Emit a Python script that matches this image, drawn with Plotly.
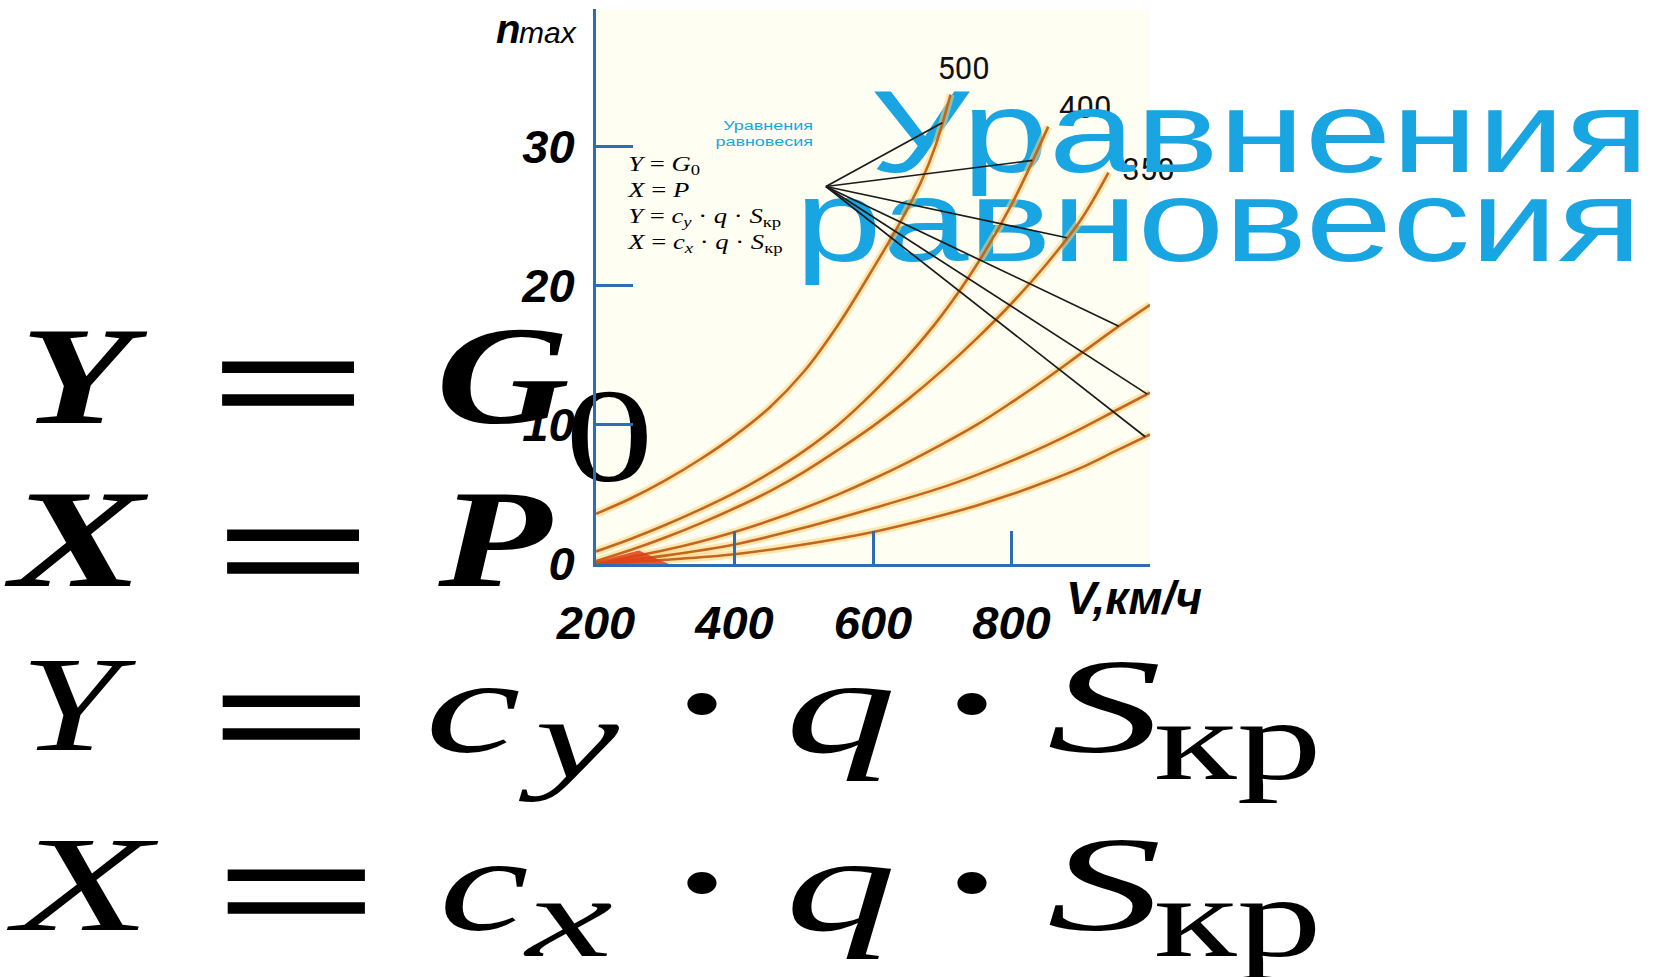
import json
import numpy as np
import plotly.graph_objects as go

W, H = 1657, 977

# ---------------- data: n_max versus V for each curve ----------------
V_500 = [200, 250, 300, 350, 400, 450, 500, 550, 600, 640, 670, 690, 712]
N_500 = [3.6, 4.7, 6.0, 7.5, 9.2, 11.2, 13.8, 17.2, 21.2, 24.6, 27.5, 30.0, 33.7]

V_400 = [200, 250, 300, 350, 400, 450, 500, 550, 600, 650, 700, 750, 800, 853]
N_400 = [0.9, 1.8, 2.8, 3.9, 5.1, 6.5, 8.1, 10.0, 12.3, 14.9, 17.9, 21.5, 25.8, 31.4]

V_350 = [200, 250, 300, 350, 400, 450, 500, 550, 600, 650, 700, 750, 800, 850, 900, 940]
N_350 = [0.2, 1.0, 1.9, 2.9, 4.0, 5.2, 6.6, 8.2, 9.9, 11.8, 13.9, 16.2, 18.7, 21.5, 24.7, 28.1]

V_200 = [200, 250, 300, 350, 400, 450, 500, 550, 600, 650, 700, 750, 800, 850, 900, 950, 1000]
N_200 = [0.0, 0.5, 1.0, 1.6, 2.3, 3.1, 4.0, 5.0, 6.1, 7.3, 8.6, 10.0, 11.6, 13.3, 15.1, 16.9, 18.6]

V_150 = [200, 300, 400, 500, 600, 700, 750, 800, 850, 900, 950, 1000]
N_150 = [0.0, 0.6, 1.4, 2.6, 4.0, 5.5, 6.4, 7.4, 8.5, 9.7, 11.0, 12.3]

V_100 = [200, 300, 400, 500, 600, 700, 750, 800, 850, 900, 950, 1000]
N_100 = [0.0, 0.3, 0.7, 1.4, 2.3, 3.5, 4.2, 5.0, 5.9, 6.9, 8.1, 9.3]

CURVE_LABELS = ["500", "400", "350", "200", "150", "100"]
LEADER_V = [700, 830, 880, 955, 996, 993]       # where each leader line meets its curve

X_TICKS = [200, 400, 600, 800, 1000]
X_TICK_TEXT = ["200", "400", "600", "800", " "]
Y_TICKS = [0, 10, 20, 30]
Y_TICK_TEXT = ["0", "10", "20", "30"]

curves = [(V_500, N_500), (V_400, N_400), (V_350, N_350),
          (V_200, N_200), (V_150, N_150), (V_100, N_100)]

# ---------------- chart frame (page pixels) ----------------
X0_PX, X1_PX = 596, 1150          # V = 200 ... 1000
Y0_PX, Y1_PX = 564, 9             # n = 0 at bottom, top of axis
V_MIN, V_MAX = 200, 1000
PX_PER_N = 13.93
N_TOP = (Y0_PX - Y1_PX) / PX_PER_N
PX_PER_V = (X1_PX - X0_PX) / (V_MAX - V_MIN)

AXIS_BLUE = "#2E6DB4"
CURVE_COL = "#C4661F"
GLOW_COL = "rgba(250,214,120,0.55)"
SKY = "#19A5E1"
WIDE = 4 / 3                      # horizontal stretch of the slide lettering

HUB = (532, 27.1)                 # common origin of the leader lines
LABEL_OFFSET_PX = [(13, -27), (37, -20), (40, -4), (31, 0), (33, -8), (33, -5)]

fig = go.Figure()

PAGE = dict(visible=False, fixedrange=True, automargin=False)
widths = {"xy": [], "x3y3": []}   # per-text horizontal stretch, in drawing order


def glyph(text, left, baseline, size, axes=("x", "y"), family="Liberation Serif",
          weight="normal", style="normal", color="black", anchor="left", sx=WIDE):
    """Single line of text whose baseline sits at `baseline` (page px)."""
    fig.add_trace(go.Scatter(
        x=[left], y=[baseline - 0.25 * size], mode="text", text=[text],
        textposition="middle right" if anchor == "left" else "middle left",
        textfont=dict(family=family, size=size, color=color, weight=weight, style=style),
        xaxis=axes[0], yaxis=axes[1], cliponaxis=False,
        hoverinfo="skip", showlegend=False))
    widths[axes[0] + axes[1]].append(sx)


# ---- layer 1: large equations (page pixels, under the chart) ----
# text, left, baseline, size, weight, style, stretch
BIG = [
    ("Y", 20, 423, 139, "bold", "italic", 1.333),
    ("=", 208, 438, 164, "bold", "normal", 1.73),
    ("G", 436, 423, 139, "bold", "italic", 1.333),
    ("0", 565, 481, 133, "normal", "normal", 1.333),
    ("X", 8, 586, 139, "bold", "italic", 1.45),
    ("=", 213, 606, 164, "bold", "normal", 1.73),
    ("P", 438, 586, 139, "bold", "italic", 1.333),
    ("Y", 20, 750, 135, "normal", "italic", 1.333),
    ("=", 208, 772, 164, "bold", "normal", 1.8),
    ("c", 425, 752, 135, "normal", "italic", 1.6),
    ("y", 528, 778, 115, "normal", "italic", 1.65),
    ("·", 672, 749, 135, "bold", "normal", 1.333),
    ("q", 785, 752, 135, "normal", "italic", 1.65),
    ("·", 942, 749, 135, "bold", "normal", 1.333),
    ("S", 1047, 752, 135, "normal", "italic", 1.7),
    ("кр", 1154, 779, 115, "normal", "normal", 1.48),
    ("X", 11, 930, 135, "normal", "italic", 1.66),
    ("=", 213, 946, 164, "bold", "normal", 1.8),
    ("c", 439, 930, 135, "normal", "italic", 1.5),
    ("x", 525, 956, 115, "normal", "italic", 1.7),
    ("·", 672, 928, 135, "bold", "normal", 1.333),
    ("q", 785, 930, 135, "normal", "italic", 1.65),
    ("·", 942, 928, 135, "bold", "normal", 1.333),
    ("S", 1047, 930, 135, "normal", "italic", 1.7),
    ("кр", 1154, 956, 115, "normal", "normal", 1.48),
]
for t, lx, bl, sz, wt, st, sx in BIG:
    glyph(t, lx, bl, sz, weight=wt, style=st, sx=sx)

# small copy of the equations beside the y axis
SMALL_EQ = ("<i>Y</i> = <i>G</i><sub>0</sub><br>"
            "<i>X</i> = <i>P</i><br>"
            "<i>Y</i> = <i>c<sub>y</sub></i> · <i>q</i> · <i>S</i><sub>кр</sub><br>"
            "<i>X</i> = <i>c<sub>x</sub></i> · <i>q</i> · <i>S</i><sub>кр</sub>")
fig.add_trace(go.Scatter(
    x=[628], y=[171 + 1.7 * 20], mode="text", text=[SMALL_EQ],
    textposition="middle right",
    textfont=dict(family="Liberation Serif", size=20, color="black"),
    xaxis="x", yaxis="y", cliponaxis=False, hoverinfo="skip", showlegend=False))
widths["xy"].append(WIDE)

# ---- layer 2: curve labels (chart coordinates) ----
lab_x, lab_y = [], []
for (vs, ns), (dx, dy) in zip(curves, LABEL_OFFSET_PX):
    lab_x.append(vs[-1] + dx / PX_PER_V)
    lab_y.append(ns[-1] - dy / PX_PER_N)
fig.add_trace(go.Scatter(
    x=lab_x, y=[v - 0.11 * 31 / PX_PER_N for v in lab_y], mode="text", text=CURVE_LABELS,
    textposition="middle center",
    textfont=dict(family="Roboto", size=31, color="#111111"),
    xaxis="x2", yaxis="y2", cliponaxis=False, hoverinfo="skip", showlegend=False))

# ---- layer 3: blue heading (page pixels) ----
glyph("Уравнения", 870, 172, 116, axes=("x3", "y3"), family="Liberation Sans", color=SKY, sx=1.345)
glyph("равновесия", 795, 261, 116, axes=("x3", "y3"), family="Liberation Sans", color=SKY, sx=1.345)
glyph("Уравнения", 813, 130, 13.5, axes=("x3", "y3"), family="Liberation Sans",
      color=SKY, anchor="right")
glyph("равновесия", 813, 146, 13.5, axes=("x3", "y3"), family="Liberation Sans",
      color=SKY, anchor="right")

# ---- layer 4: the chart itself ----
for vs, ns in curves:
    fig.add_trace(go.Scatter(x=vs, y=ns, mode="lines", line=dict(color=GLOW_COL, width=8, shape="spline"),
                             xaxis="x4", yaxis="y4", hoverinfo="skip", showlegend=False))
for (vs, ns), name in zip(curves, CURVE_LABELS):
    fig.add_trace(go.Scatter(x=vs, y=ns, mode="lines", name=name,
                             line=dict(color=CURVE_COL, width=2.6, shape="spline"),
                             xaxis="x4", yaxis="y4", showlegend=False))

# red wedge where the curves bunch together near the origin
wedge_v = np.linspace(200, 262, 9)
wedge_n = np.interp(wedge_v, V_350, N_350) * 0.8
fig.add_trace(go.Scatter(
    x=list(wedge_v) + [305, 200], y=list(wedge_n) + [0, 0], mode="lines",
    fill="toself", fillcolor="rgba(226,62,26,0.85)", line=dict(width=0),
    xaxis="x4", yaxis="y4", hoverinfo="skip", showlegend=False))

# leader lines from a common hub to each curve
lx, ly = [], []
for (vs, ns), lv in zip(curves, LEADER_V):
    lx += [HUB[0], lv, None]
    ly += [HUB[1], float(np.interp(lv, vs, ns)), None]
fig.add_trace(go.Scatter(x=lx, y=ly, mode="lines", line=dict(color="#1b1b1b", width=1.7),
                         xaxis="x4", yaxis="y4", hoverinfo="skip", showlegend=False))

dom_x = [X0_PX / W, X1_PX / W]
dom_y = [(H - Y0_PX) / H, (H - Y1_PX) / H]

tick_font = dict(family="Liberation Sans", size=47, color="black", weight="bold", style="italic")

fig.update_layout(
    width=W, height=H, margin=dict(l=0, r=0, t=0, b=0, autoexpand=False),
    paper_bgcolor="white", plot_bgcolor="rgba(0,0,0,0)", showlegend=False,
    xaxis=dict(domain=[0, 1], range=[0, W], **PAGE),
    yaxis=dict(domain=[0, 1], range=[H, 0], **PAGE),
    xaxis2=dict(domain=dom_x, range=[V_MIN, V_MAX], anchor="y2", **PAGE),
    yaxis2=dict(domain=dom_y, range=[0, N_TOP], anchor="x2", **PAGE),
    xaxis3=dict(domain=[0, 1], range=[0, W], anchor="y3", **PAGE),
    yaxis3=dict(domain=[0, 1], range=[H, 0], anchor="x3", **PAGE),
    xaxis4=dict(domain=dom_x, range=[V_MIN, V_MAX], anchor="y4", fixedrange=True, automargin=False,
                showline=True, linecolor=AXIS_BLUE, linewidth=3, showgrid=False, zeroline=False,
                ticks="inside", ticklen=33, tickwidth=3, tickcolor=AXIS_BLUE,
                tickvals=X_TICKS, ticktext=X_TICK_TEXT, tickfont=tick_font, ticklabelstandoff=16),
    yaxis4=dict(domain=dom_y, range=[0, N_TOP], anchor="x4", fixedrange=True, automargin=False,
                showline=True, linecolor=AXIS_BLUE, linewidth=3, showgrid=False, zeroline=False,
                ticks="inside", ticklen=37, tickwidth=3, tickcolor=AXIS_BLUE,
                tickvals=Y_TICKS, ticktext=Y_TICK_TEXT, tickfont=tick_font, ticklabelstandoff=9),
    shapes=[dict(type="rect", xref="paper", yref="paper", layer="below",
                 x0=dom_x[0], x1=dom_x[1], y0=dom_y[0], y1=dom_y[1],
                 fillcolor="#FFFEF2", line=dict(width=0))],
)


def title(text, left, baseline, size, weight="bold", style="italic"):
    fig.add_annotation(x=left / W, y=1 - (baseline - 0.3465 * size) / H, xref="paper", yref="paper",
                       xanchor="left", yanchor="middle", showarrow=False, text=text,
                       borderpad=0, borderwidth=0,
                       font=dict(family="Liberation Sans", size=size, color="black",
                                 weight=weight, style=style))


title("n", 496, 43, 40)
title("max", 519, 43, 30, weight="normal")
title("V,км/ч", 1066, 614, 46)

# stretch the slide lettering horizontally, keeping each left (or right) edge in place
post = """
var gd = document.getElementById('{plot_id}');
var SX = %s;
function widen(){
  Object.keys(SX).forEach(function(sp){
    gd.querySelectorAll('.subplot.' + sp + ' .textpoint text').forEach(function(t, i){
      var a = t.getAttribute('text-anchor');
      var s = SX[sp][i] || 1.3333;
      t.style.transformBox = 'fill-box';
      t.style.transformOrigin = (a === 'end' ? 'right' : (a === 'middle' ? 'center' : 'left')) + ' center';
      t.style.transform = 'scaleX(' + s + ')';
    });
  });
}
widen();
gd.on('plotly_afterplot', widen);
""" % json.dumps(widths)

fig.write_html("out.html", post_script=post)
